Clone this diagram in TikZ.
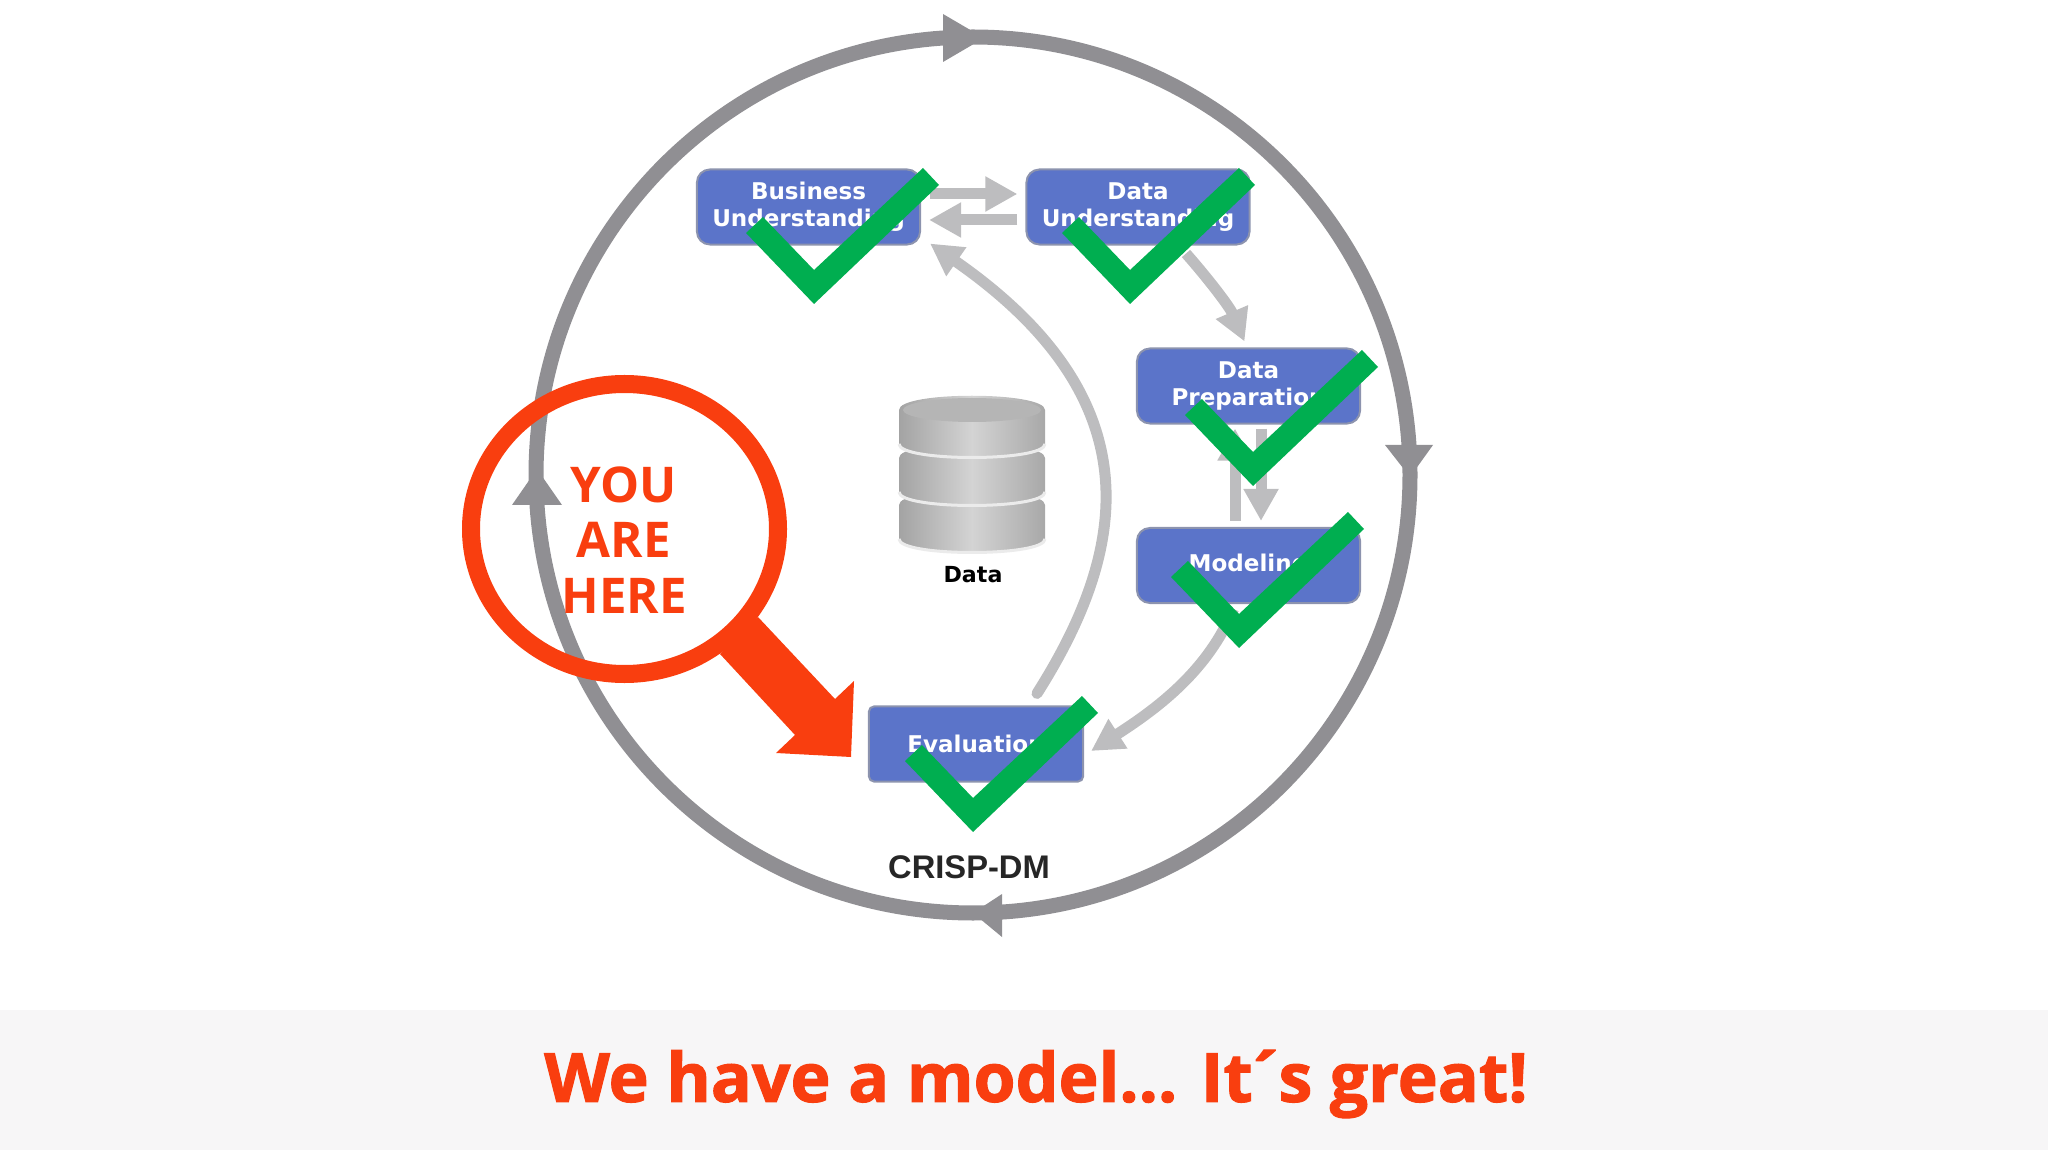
\documentclass[tikz,border=0pt]{standalone}
\usepackage{fontspec}
\usetikzlibrary{arrows.meta}
\newfontfamily\stagefont{DejaVu Sans}
\newfontfamily\crispfont{Liberation Sans}
\newfontfamily\headfont{Open Sans}
\newfontfamily\titlefont{Open Sans}[FakeBold=1.6]
\definecolor{stageblue}{HTML}{5B74C9}
\definecolor{stageedge}{HTML}{8C93AE}
\definecolor{ringgrey}{HTML}{908F93}
\definecolor{flowgrey}{HTML}{BDBDBF}
\definecolor{hereorange}{HTML}{F93E0F}
\definecolor{tickgreen}{HTML}{00AE50}
\definecolor{bandgrey}{HTML}{F7F6F7}
\tikzset{
	stage/.style={draw=stageedge,line width=0.02cm,fill=stageblue,rounded corners=0.13cm,inner sep=0pt,
		minimum width=2.23cm,minimum height=0.75cm,align=center,text=white,
		font=\stagefont\bfseries\fontsize{6.55}{7.8}\selectfont},
	flow/.style={draw=flowgrey,line width=0.11cm,-{Triangle[length=0.32cm,width=0.33cm]}},
	ring/.style={draw=ringgrey,line width=0.15cm},
	pics/tick/.style={code={\fill[tickgreen] (0,0) -- (-68,-71) -- (-51,-87) -- (0,-34) -- (109,-136) -- (125,-119) -- cycle;}},
	pics/disc/.style={code={
		\shade[left color=black!36,right color=black!34,middle color=black!17] (-73,0) .. controls (-73,-19) and (73,-19) .. (73,0) -- (73,#1) .. controls (73,#1+18) and (-73,#1+18) .. (-73,#1) -- cycle;
		\draw[black!8,line width=0.03cm] (-73,#1) .. controls (-73,#1+18) and (73,#1+18) .. (73,#1);
	}}
}
\begin{document}
\begin{tikzpicture}[x=0.01cm,y=-0.01cm]
	\useasboundingbox (0,0) rectangle (2048,1152);
	\fill[bandgrey] (0,1010) rectangle (2048,1150);

	\draw[ring] (973,475) ellipse [x radius=437,y radius=438];
	\fill[ringgrey] (943,14) -- (984,38) -- (943,62) -- cycle;
	\fill[ringgrey] (1385,445) -- (1433,445) -- (1410,477) -- cycle;
	\fill[ringgrey] (1002,894) -- (973,913) -- (1002,937) -- cycle;
	\fill[ringgrey] (512,505) -- (537,469) -- (562,505) -- cycle;

	\pic at (972,505) {disc=34};
	\pic at (972,458) {disc=34};
	\pic at (972,410) {disc=34};
	\fill[black!29] (972,410) ellipse [x radius=69,y radius=12];

	\node[stage] (business) at (808.5,207) {Business\\Understanding};
	\node[stage] (understanding) at (1138,207) {Data\\Understanding};
	\node[stage] (preparation) at (1248.5,386) {Data\\Preparation};
	\node[stage] (modeling) at (1248.5,565.5) {Modeling};
	\node[stage,rounded corners=0.05cm,minimum width=2.14cm] (evaluation) at (976,744) {Evaluation};
	\node[font=\stagefont\bfseries\fontsize{6.3}{7.5}\selectfont] (data) at (973,575) {Data};
	\node[font=\crispfont\bfseries\fontsize{9.3}{11}\selectfont,text=black!85] (crisp) at (969,867) {CRISP-DM};

	\draw[flow] ([shift={(9,-13)}]business.east) -- ([shift={(-8,-13)}]understanding.west);
	\draw[flow] ([shift={(-8,13)}]understanding.west) -- ([shift={(8,13)}]business.east);
	\draw[flow] ([shift={(48,8)}]understanding.south) .. controls +(22,25) and +(-15,-35) .. ([shift={(-4,-6)}]preparation.north);
	\draw[flow] ([shift={(12.5,4)}]preparation.south) -- ([shift={(12.5,-6)}]modeling.north);
	\draw[flow] ([shift={(-13.5,-6)}]modeling.north) -- ([shift={(-13.5,4)}]preparation.south);
	\draw[flow] ([shift={(-15,5)}]modeling.south) .. controls +(-25,60) and +(70,-45) .. ([shift={(7,7)}]evaluation.east);
	\draw[flow,line cap=round] ([shift={(61,-12)}]evaluation.north) .. controls (1128,550) and (1155,400) .. ([shift={(9,-2)}]business.south east);

	\draw[draw=hereorange,line width=0.18cm] (624.5,529) ellipse [x radius=153.5,y radius=145];
	\fill[hereorange] (758,617) -- (835,699) -- (854,681) -- (851,757) -- (776,753) -- (795,735) -- (720,654) -- cycle;
	\node[text=hereorange,align=center,font=\headfont\bfseries\fontsize{14}{15.8}\selectfont] (here) at (624,540) {YOU\\ARE\\HERE};

	\pic at (814,304) {tick};
	\pic at (1130,304) {tick};
	\pic at (1253,486) {tick};
	\pic at (1239,648) {tick};
	\pic at (973,832) {tick};

	\node[text=hereorange,font=\titlefont\bfseries\fontsize{19.3}{23}\selectfont] (title) at (1036,1084) {We have a model... It\kern-2.2pt´\kern-2.2pt s great!};
\end{tikzpicture}
\end{document}
